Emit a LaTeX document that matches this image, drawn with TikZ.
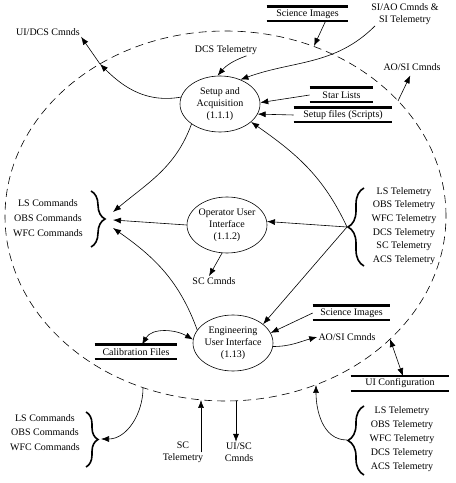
\documentclass[tikz,border=0pt]{standalone}
\usepackage{fontspec}
\setmainfont{Liberation Serif}
\usetikzlibrary{positioning,shapes.geometric,arrows.meta,decorations.pathreplacing}

\begin{document}
\begin{tikzpicture}[x=1pt,y=1pt,line width=0.6pt,>={Latex[length=8pt,width=6pt]},
    proc/.style={draw,ellipse,minimum width=80pt,minimum height=56pt,inner xsep=-14pt,inner ysep=-10pt,align=center},
    store/.style={minimum height=14pt,inner ysep=0pt,append after command={
        (\tikzlastnode.north west) edge[line width=2.4pt] (\tikzlastnode.north east)
        (\tikzlastnode.south west) edge[line width=2.4pt] (\tikzlastnode.south east)}},
    lbl/.style={align=center,inner sep=1pt},
    brc/.style={decorate,decoration={brace,amplitude=#1},line width=1.6pt}]
    \useasboundingbox (0,0) rectangle (456,483);
    \draw[dash pattern=on 8pt off 5pt] (225.5,267) ellipse [x radius=220.5,y radius=185];

    \node[proc] (setup) at (220,379) {Setup and\\Acquisition\\(1.1.1)};
    \node[proc] (oper) at (227,258) {Operator User\\Interface\\(1.1.2)};
    \node[proc] (eng) at (233,140) {Engineering\\User Interface\\(1.13)};

    \node[store,minimum width=81pt] (sci1) at (307.5,469) {Science Images};
    \node[store,minimum width=63pt] (star) at (341.5,388) {Star Lists};
    \node[store,minimum width=98pt] (setupf) at (343,368) {Setup files (Scripts)};
    \node[store,minimum width=77pt] (sci2) at (351.5,170) {Science Images};
    \node[store,minimum width=82pt] (calib) at (136,131) {Calibration Files};
    \node[store,minimum width=98pt] (uiconf) at (400,99.5) {UI Configuration};

    \node[lbl] (uidcs) at (48,451) {UI/DCS Cmnds};
    \node[lbl] (dcstel) at (226,433) {DCS Telemetry};
    \node[lbl] (siao) at (405,469) {SI/AO Cmnds \&\\SI Telemetry};
    \node[lbl] (aosi1) at (412,416) {AO/SI Cmnds};
    \node[lbl] (sccmd) at (214,202) {SC Cmnds};
    \node[lbl] (aosi2) at (347,146) {AO/SI Cmnds};
    \node[lbl] (sctel) at (183,30.5) {SC\\Telemetry};
    \node[lbl] (uisc) at (239,30.5) {UI/SC\\Cmnds};
    \node[lbl] (cmd1) at (48,265) {LS Commands\\[3pt]OBS Commands\\[3pt]WFC Commands};
    \node[lbl] (tel1) at (404,257) {LS Telemetry\\[1.6pt]OBS Telemetry\\[1.6pt]WFC Telemetry\\[1.6pt]DCS Telemetry\\[1.6pt]SC Telemetry\\[1.6pt]ACS Telemetry};
    \node[lbl] (cmd2) at (45,50.5) {LS Commands\\[2.5pt]OBS Commands\\[2.5pt]WFC Commands};
    \node[lbl] (tel2) at (402,44) {LS Telemetry\\[2pt]OBS Telemetry\\[2pt]WFC Telemetry\\[2pt]DCS Telemetry\\[2pt]ACS Telemetry};

    % braces
    \draw[brc=14pt] (91,292) -- (91,236);
    \draw[brc=16pt] (364,217) -- (364,295);
    \draw[brc=12pt] (86,71) -- (86,16);
    \draw[brc=16pt] (364,8) -- (364,77);

    % boundary and brace points
    \coordinate (bdcs) at (100,419);
    \coordinate (bsci) at (314,437);
    \coordinate (baosi) at (398,382);
    \coordinate (lcA) at (113,271);
    \coordinate (lcB) at (113,263);
    \coordinate (lcC) at (113,255);
    \coordinate (tbr) at (347,256);
    \coordinate (bbl) at (143,95);
    \coordinate (cbr2) at (101,44);
    \coordinate (bsc) at (201,83);
    \coordinate (buisc) at (236,82);
    \coordinate (tbr2) at (347,43);
    \coordinate (bbr) at (316,98);
    \coordinate (bcfg) at (390,144);

    \path (setup.170) edge[->,out=190,in=-45] (bdcs)
          (bdcs) edge[->] (uidcs.south east)
          ([xshift=-12pt]dcstel.south east) edge[->,out=200,in=50] (setup.95)
          ([xshift=18pt]sci1.south) edge[->] (bsci)
          ([xshift=5pt]siao.south west) edge[->,out=225,in=20] (setup.50)
          (baosi) edge[->,shorten >=4pt] (aosi1.south)
          (star.west) edge[->] (setup.2)
          (setupf.west) edge[->] (setup.-15)
          (tbr) edge[->,out=115,in=-35] (setup.-30)
          (tbr) edge[->] (oper.5)
          (tbr) edge[->] (eng.32)
          (sci2.west) edge[->] (eng.15)
          (eng.-5) edge[->,out=0,in=195] (aosi2.west)
          (setup.south west) edge[->,out=250,in=40] (lcA)
          (oper.west) edge[->] (lcB)
          (eng.160) edge[->,out=110,in=-35] (lcC)
          (oper.-100) edge[->] ([xshift=-5pt]sccmd.north)
          (eng.175) edge[<->,out=150,in=60] ([xshift=6pt]calib.north)
          (bbl) edge[->,out=-90,in=0] (cbr2)
          ([xshift=18pt]sctel.center) edge[->] (bsc)
          (buisc) edge[->] ([xshift=-3pt]uisc.north)
          (tbr2) edge[->,out=180,in=-90] (bbr)
          (bcfg) edge[<->] ([xshift=3pt]uiconf.north);
\end{tikzpicture}
\end{document}
